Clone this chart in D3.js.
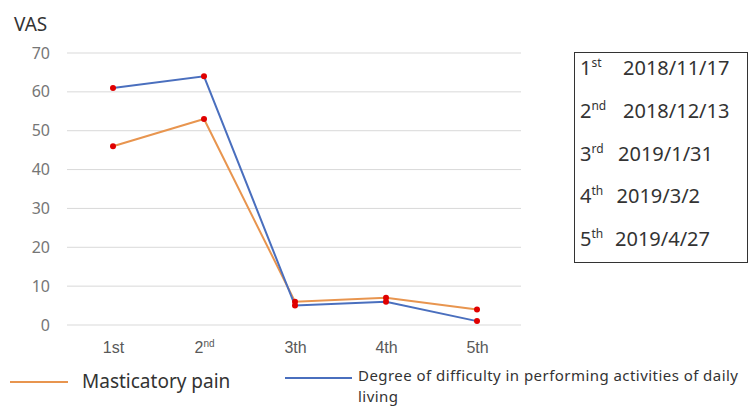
<!DOCTYPE html>
<html>
<head>
<meta charset="utf-8">
<script src="https://cdn.jsdelivr.net/npm/d3@7"></script>
<style>
  body { margin: 0; background: #fff; }
  svg { font-family: "Noto Sans", sans-serif; }
</style>
</head>
<body>
<svg id="chart" width="749" height="406"></svg>
<script>
// visits and VAS scores
var visits = ["1st", "2nd", "3th", "4th", "5th"];
var painVals = [46, 53, 6, 7, 4];
var adlVals = [61, 64, 5, 6, 1];
var yTicks = [0, 10, 20, 30, 40, 50, 60, 70];

// date table on the right
var dateOrd = ["1", "2", "3", "4", "5"];
var dateSup = ["st", "nd", "rd", "th", "th"];
var dates = ["2018/11/17", "2018/12/13", "2019/1/31", "2019/3/2", "2019/4/27"];

var seriesNames = ["Masticatory pain", "Degree of difficulty in performing activities of daily"];

var svg = d3.select("#chart");

var x = d3.scalePoint().domain(visits).range([113, 477]);
var y = d3.scaleLinear().domain([0, 70]).range([325, 53]);

// gridlines
svg.append("g")
    .selectAll("line")
    .data(yTicks)
    .enter().append("line")
    .attr("x1", 67).attr("x2", 521)
    .attr("y1", function(d) { return y(d); })
    .attr("y2", function(d) { return y(d); })
    .attr("stroke", "#d9d9d9")
    .attr("stroke-width", 1);

// y axis labels
var yAxis = svg.append("g")
    .attr("transform", "translate(58,0)")
    .call(d3.axisLeft(y).tickValues(yTicks).tickSize(0).tickPadding(8));
yAxis.select(".domain").remove();
yAxis.selectAll("text")
    .attr("font-size", 16)
    .attr("fill", "#767676")
    .attr("font-family", "Noto Sans");

svg.append("text")
    .attr("x", 14).attr("y", 31)
    .attr("font-size", 19)
    .attr("fill", "#333")
    .text("VAS");

// x axis labels
var xAxis = svg.append("g")
    .attr("transform", "translate(0,342)")
    .call(d3.axisBottom(x).tickSize(0).tickPadding(0));
xAxis.select(".domain").remove();
xAxis.selectAll("text")
    .attr("font-size", 16)
    .attr("fill", "#595959")
    .each(function(d) {
        // 2nd is written with a superscript
        if (d === "2nd") {
            var t = d3.select(this).text("2");
            t.append("tspan").attr("font-size", 10).attr("dy", -6).text("nd");
        }
    });

// lines
var line = d3.line()
    .x(function(d, i) { return x(visits[i]); })
    .y(function(d) { return y(d); });

svg.append("path")
    .datum(painVals)
    .attr("d", line)
    .attr("fill", "none")
    .attr("stroke", "#E8954F")
    .attr("stroke-width", 2);

svg.append("path")
    .datum(adlVals)
    .attr("d", line)
    .attr("fill", "none")
    .attr("stroke", "#4A6FBE")
    .attr("stroke-width", 2);

// red markers
[painVals, adlVals].forEach(function(vals) {
    svg.append("g")
        .selectAll("circle")
        .data(vals)
        .enter().append("circle")
        .attr("cx", function(d, i) { return x(visits[i]); })
        .attr("cy", function(d) { return y(d); })
        .attr("r", 3)
        .attr("fill", "#E00000");
});

// date box
svg.append("rect")
    .attr("x", 574.5).attr("y", 52.5)
    .attr("width", 173).attr("height", 210)
    .attr("fill", "#fff")
    .attr("stroke", "#333")
    .attr("stroke-width", 1);

var rowY = d3.scaleLinear().domain([0, 4]).range([75, 246]);
var rows = svg.append("g").selectAll("text")
    .data(dates)
    .enter().append("text")
    .attr("x", 580)
    .attr("y", function(d, i) { return rowY(i); })
    .attr("font-size", 20)
    .attr("fill", "#333");
rows.append("tspan").text(function(d, i) { return dateOrd[i]; });
rows.append("tspan").attr("font-size", 12).attr("dy", -8)
    .text(function(d, i) { return dateSup[i]; });
rows.append("tspan").attr("dy", 8)
    .attr("x", function(d, i) { return i < 2 ? 623 : 618 - (i - 2) * 1.5; })
    .text(function(d) { return d; });

// legend
var lg = svg.append("g");
lg.append("line")
    .attr("x1", 10).attr("x2", 68).attr("y1", 382).attr("y2", 382)
    .attr("stroke", "#E8954F").attr("stroke-width", 2);
lg.append("text")
    .attr("x", 82).attr("y", 388)
    .attr("font-size", 19)
    .attr("fill", "#333")
    .text(seriesNames[0]);
lg.append("line")
    .attr("x1", 285).attr("x2", 352).attr("y1", 378).attr("y2", 378)
    .attr("stroke", "#4A6FBE").attr("stroke-width", 2);
var lt = lg.append("text")
    .attr("x", 358).attr("y", 381)
    .attr("font-size", 15)
    .attr("letter-spacing", 0.45)
    .attr("fill", "#333");
lt.append("tspan").text(seriesNames[1]);
lt.append("tspan").attr("x", 358).attr("dy", 21).text("living");
</script>
</body>
</html>
